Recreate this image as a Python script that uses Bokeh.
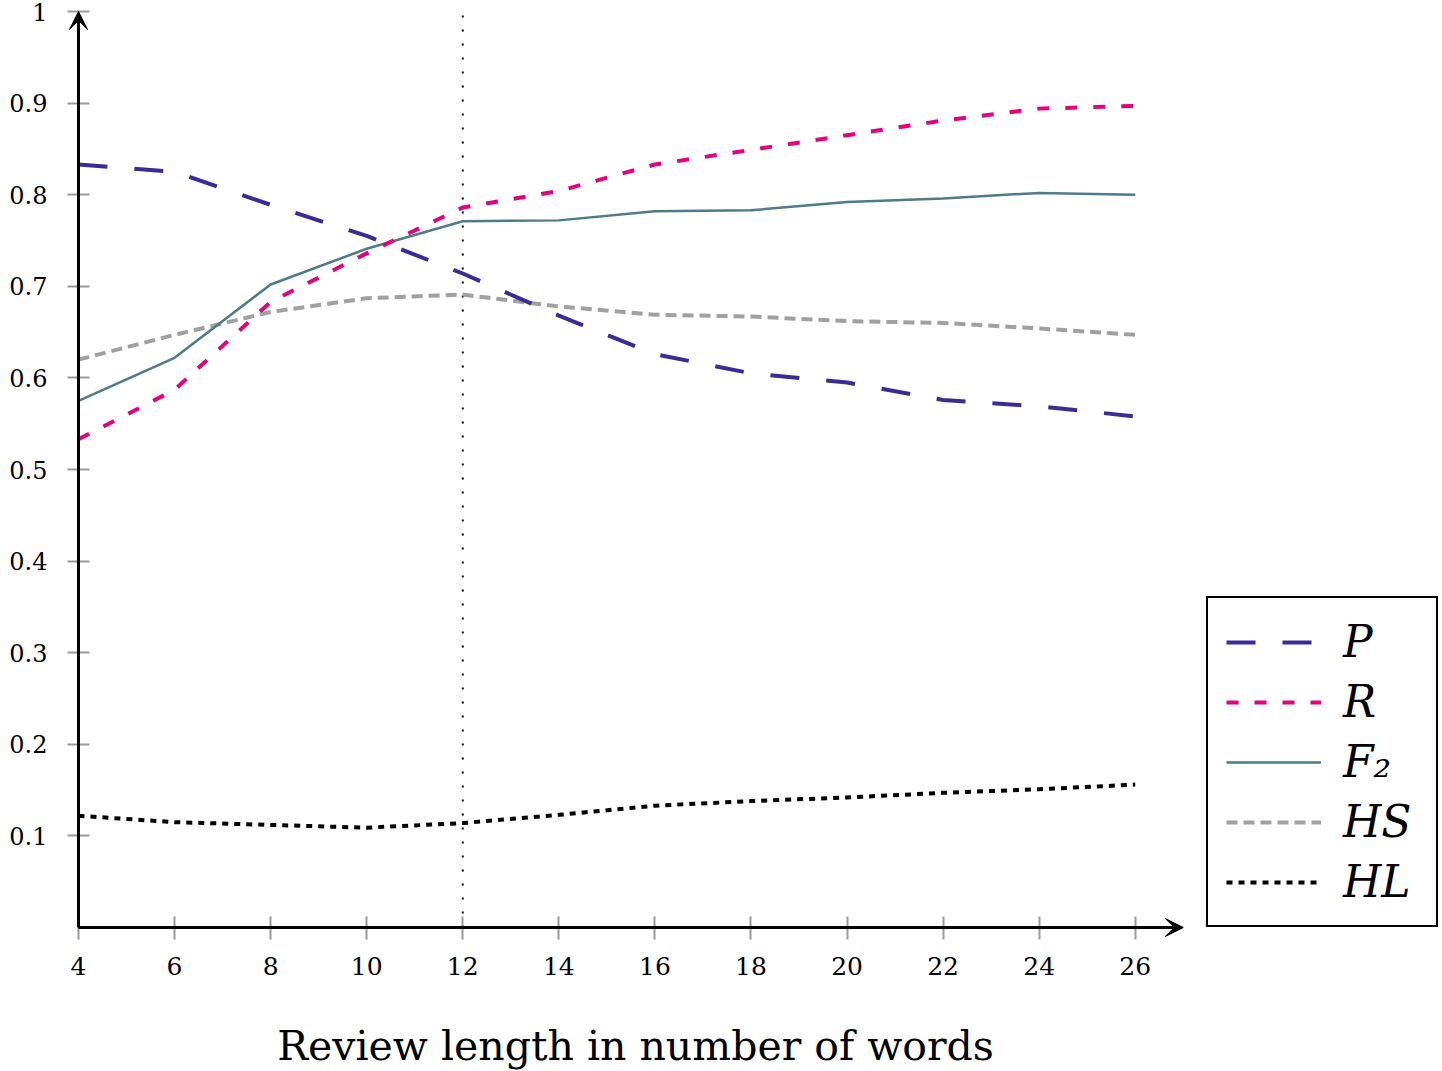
from bokeh.plotting import figure
from bokeh.models import Range1d, FixedTicker, Arrow, VeeHead, Legend, LegendItem
from bokeh.embed import file_html
from bokeh.resources import INLINE

# ---- data ----
review_len = [4, 6, 8, 10, 12, 14, 16, 18, 20, 22, 24, 26]
precision = [0.833, 0.825, 0.789, 0.755, 0.714, 0.668, 0.626, 0.605, 0.595, 0.576, 0.569, 0.558]
recall = [0.533, 0.587, 0.683, 0.736, 0.786, 0.804, 0.833, 0.849, 0.865, 0.881, 0.894, 0.897]
f2 = [0.575, 0.622, 0.702, 0.741, 0.771, 0.772, 0.782, 0.783, 0.792, 0.796, 0.802, 0.800]
hs = [0.620, 0.647, 0.672, 0.687, 0.691, 0.678, 0.669, 0.667, 0.662, 0.660, 0.654, 0.647]
hl = [0.122, 0.115, 0.112, 0.109, 0.114, 0.123, 0.133, 0.138, 0.142, 0.147, 0.151, 0.156]
series_labels = ["P", "R", "F₂", "HS", "HL"]
threshold_x = 12
x_ticks = [4, 6, 8, 10, 12, 14, 16, 18, 20, 22, 24, 26]
y_ticks = [0.1, 0.2, 0.3, 0.4, 0.5, 0.6, 0.7, 0.8, 0.9, 1.0]
y_tick_labels = ["0.1", "0.2", "0.3", "0.4", "0.5", "0.6", "0.7", "0.8", "0.9", "1"]
x_label = "Review length in number of words"
x_min, x_max = 4, 27      # drawn x axis (arrow tip at x_max)
y_min, y_max = 0, 1       # drawn y axis (arrow tip at y_max)

SERIF = "DejaVu Serif"

# the frame reaches a little past the axes so the arrowheads are not cut
p = figure(frame_width=1134, frame_height=930, output_backend="svg", toolbar_location=None,
           x_range=Range1d(3.792, 27.4), y_range=Range1d(-0.0109, 1.0044),
           min_border_left=68, min_border_right=0, min_border_top=7,
           min_border_bottom=100, x_axis_label=x_label)
p.grid.visible = False
p.outline_line_color = None
p.background_fill_color = "white"
p.border_fill_color = "white"

for ax in (p.xaxis[0], p.yaxis[0]):
    ax.axis_line_color = None
    ax.major_tick_line_color = "#9a9a9a"
    ax.major_tick_line_width = 2
    ax.minor_tick_line_color = None
    ax.major_label_text_font = SERIF
    ax.major_label_text_color = "black"

xa = p.xaxis[0]
xa.ticker = FixedTicker(ticks=x_ticks)
xa.major_tick_in = 21
xa.major_tick_out = 2
xa.major_label_standoff = 17
xa.major_label_text_font_size = "25px"
xa.axis_label_text_font = SERIF
xa.axis_label_text_font_style = "normal"
xa.axis_label_text_font_size = "41px"
xa.axis_label_text_color = "black"
xa.axis_label_standoff = 44

ya = p.yaxis[0]
ya.ticker = FixedTicker(ticks=y_ticks)
ya.major_label_overrides = dict(zip(y_ticks, y_tick_labels))
ya.major_tick_in = 21
ya.major_tick_out = 1
ya.major_label_standoff = 20
ya.major_label_text_font_size = "24px"

# threshold line
p.segment(x0=[threshold_x], y0=[y_min], x1=[threshold_x], y1=[y_max],
          line_color="black", line_width=2, line_dash="2 12")

r_hs = p.line(review_len, hs, line_color="#a0a0a0", line_width=4, line_dash="11 6")
r_hl = p.line(review_len, hl, line_color="black", line_width=4, line_dash="6 6")
r_f2 = p.line(review_len, f2, line_color="#4e7a89", line_width=2.5)
r_r = p.line(review_len, recall, line_color="#e4007c", line_width=4, line_dash="12 16")
r_p = p.line(review_len, precision, line_color="#3b2b98", line_width=4, line_dash="29 27")

# axis lines with arrowheads
p.add_layout(Arrow(end=VeeHead(size=18, fill_color="black", line_color="black"),
                   x_start=x_min, y_start=y_min, x_end=x_max, y_end=y_min,
                   line_color="black", line_width=3))
p.add_layout(Arrow(end=VeeHead(size=18, fill_color="black", line_color="black"),
                   x_start=x_min, y_start=y_min, x_end=x_min, y_end=y_max,
                   line_color="black", line_width=3))

legend = Legend(items=[LegendItem(label=lab, renderers=[r]) for lab, r in
                       zip(series_labels, [r_p, r_r, r_f2, r_hs, r_hl])],
                location=(4, 10), margin=0, padding=18, spacing=9,
                glyph_width=95, glyph_height=40, label_height=40, label_width=75,
                label_standoff=22, label_text_font=SERIF, label_text_color="black",
                label_text_font_style="italic", label_text_font_size="44px",
                border_line_color="black", border_line_width=2.5, border_line_alpha=1,
                background_fill_color="white", background_fill_alpha=1)
p.add_layout(legend, "right")

open("out.html", "w").write(file_html(p, INLINE))
